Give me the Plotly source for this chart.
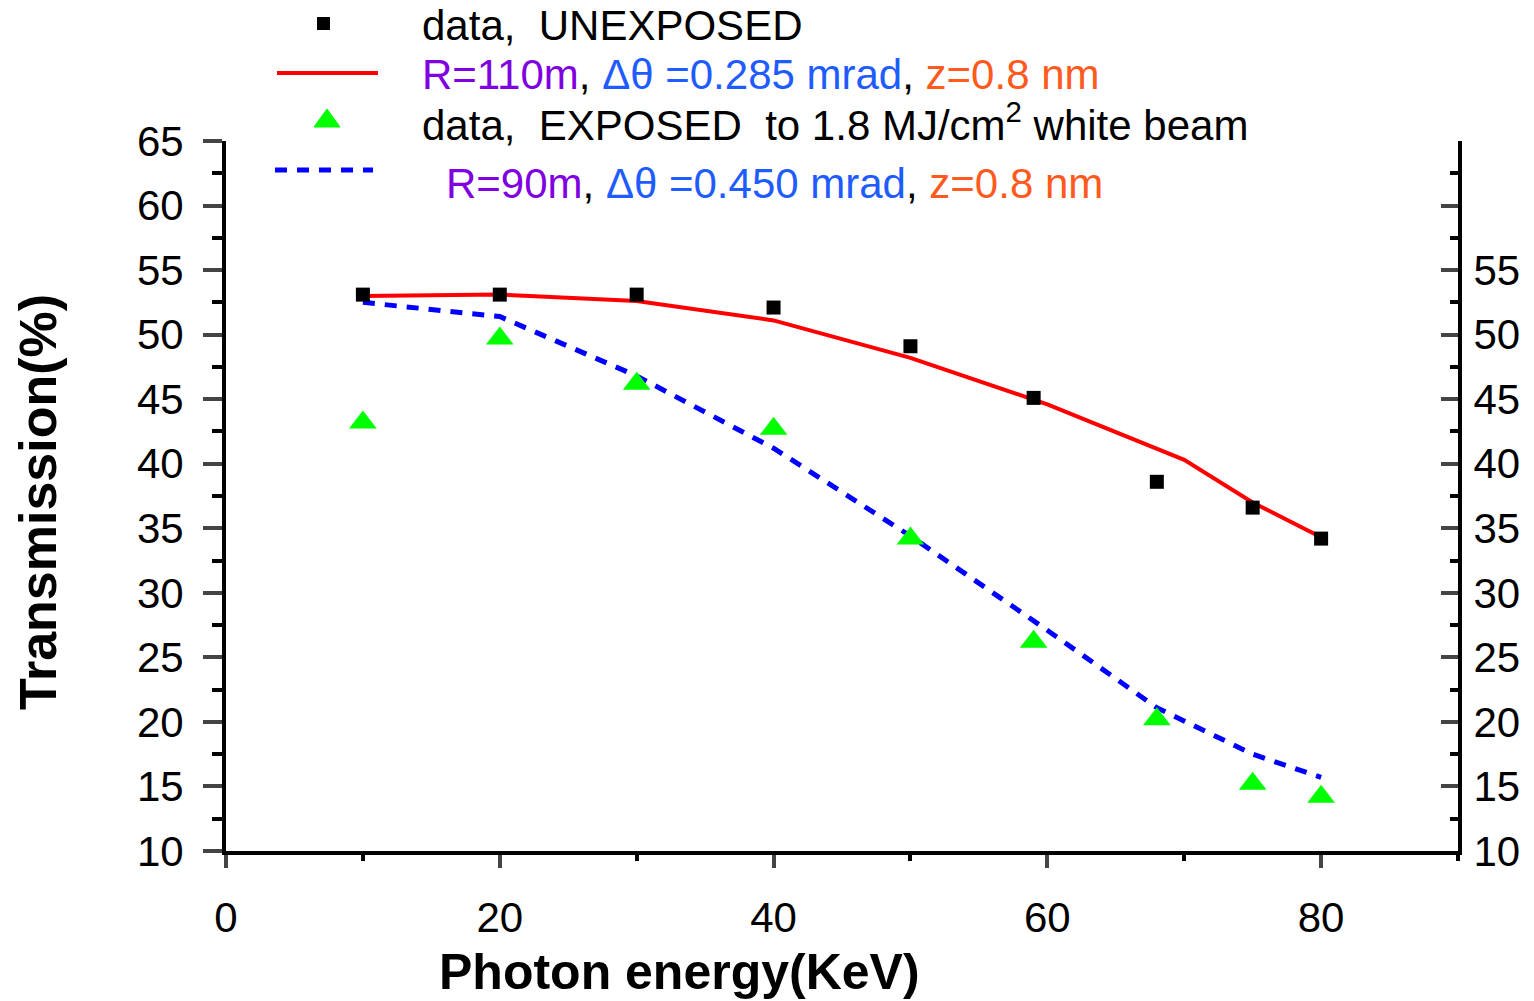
import plotly.graph_objects as go

# ---- data ----
unexp_x = [10, 20, 30, 40, 50, 59, 68, 75, 80]
unexp_y = [53.1, 53.1, 53.1, 52.1, 49.1, 45.1, 38.6, 36.6, 34.2]
fit110_x = [10, 20, 30, 40, 50, 60, 70, 75, 80]
fit110_y = [53.0, 53.1, 52.6, 51.1, 48.2, 44.6, 40.3, 37.0, 34.3]
exp_x = [10, 20, 30, 40, 50, 59, 68, 75, 80]
exp_y = [43.2, 49.7, 46.2, 42.7, 34.2, 26.2, 20.2, 15.2, 14.2]
fit90_x = [10, 20, 30, 40, 50, 60, 68, 75, 80]
fit90_y = [52.5, 51.4, 46.8, 41.2, 34.4, 27.1, 21.1, 17.5, 15.7]

x_ticks = [0, 20, 40, 60, 80]
y_ticks = [10, 15, 20, 25, 30, 35, 40, 45, 50, 55, 60, 65]
y2_ticks = [10, 15, 20, 25, 30, 35, 40, 45, 50, 55]
y3_ticks = [60, 65]

PURPLE = "#7F00E0"
BLUE_T = "#1F5CFF"
ORANGE = "#FF5A1E"
FONT = "Liberation Sans, Arial, sans-serif"

fig = go.Figure()
fig.add_trace(go.Scatter(x=fit110_x, y=fit110_y, mode="lines",
                         line=dict(color="#FF0000", width=4), showlegend=False))
fig.add_trace(go.Scatter(x=fit90_x, y=fit90_y, mode="lines",
                         line=dict(color="#0000FF", width=5, dash="12px,10px"), showlegend=False))
fig.add_trace(go.Scatter(x=unexp_x, y=unexp_y, mode="markers",
                         marker=dict(symbol="square", color="black", size=14), showlegend=False))
fig.add_trace(go.Scatter(x=exp_x, y=exp_y, mode="markers",
                         marker=dict(symbol="triangle-up", color="#00FF00", size=24), showlegend=False))
# dummy traces for right axes
fig.add_trace(go.Scatter(x=[None], y=[None], yaxis="y2", showlegend=False, hoverinfo="skip"))
fig.add_trace(go.Scatter(x=[None], y=[None], yaxis="y3", showlegend=False, hoverinfo="skip"))

W, H = 1534, 1001
L, R, T, B = 226, 1458, 141, 851

fig.update_layout(
    width=W, height=H,
    margin=dict(l=L, r=W - R, t=T, b=H - B, pad=0),
    paper_bgcolor="white", plot_bgcolor="white",
    font=dict(family=FONT, size=42, color="black"),
    showlegend=False,
    xaxis=dict(range=[0, 90], tickvals=x_ticks, ticks="outside", ticklen=13, tickwidth=4,
               showline=True, linewidth=4, linecolor="black", showgrid=False, zeroline=False,
               ticklabelstandoff=14,
               minor=dict(tickvals=[10, 30, 50, 70, 90], ticks="outside", ticklen=6, tickwidth=4, tickcolor="black")),
    yaxis=dict(range=[10, 65], tickvals=y_ticks, ticks="outside", ticklen=19, tickwidth=4,
               showline=True, linewidth=4, linecolor="black", showgrid=False, zeroline=False,
               ticklabelstandoff=11,
               minor=dict(dtick=2.5, ticks="outside", ticklen=10, tickwidth=4, tickcolor="black")),
    yaxis2=dict(range=[10, 65], overlaying="y", side="right", tickvals=y2_ticks,
                ticks="inside", ticklen=17, tickwidth=4, showline=True, linewidth=4, linecolor="black",
                showgrid=False, zeroline=False, ticklabelstandoff=3,
                minor=dict(dtick=2.5, ticks="inside", ticklen=8, tickwidth=4, tickcolor="black")),
    yaxis3=dict(range=[10, 65], overlaying="y", side="right", tickvals=y3_ticks, showticklabels=False,
                ticks="inside", ticklen=17, tickwidth=4, showline=False,
                showgrid=False, zeroline=False),
)

def px(xp):
    return (xp - L) / (R - L)

def py(yp):
    return (B - yp) / (B - T)

# axis titles
fig.add_annotation(text="<b>Photon energy(KeV)</b>", xref="paper", yref="paper",
                   x=px(679), y=py(972), xanchor="center", yanchor="middle", showarrow=False,
                   font=dict(size=50, family=FONT))
fig.add_annotation(text="<b>Transmission(%)</b>", xref="paper", yref="paper",
                   x=px(38), y=py(502), xanchor="center", yanchor="middle", showarrow=False,
                   textangle=-90, font=dict(size=52, family=FONT))

# legend (manual)
sp = "\u00a0"
legend_rows = [
    (420, 25, "data," + sp + sp + "UNEXPOSED"),
    (420, 75, f"<span style='color:{PURPLE}'>R=110m</span>, <span style='color:{BLUE_T}'>Δθ =0.285 mrad</span>, <span style='color:{ORANGE}'>z=0.8 nm</span>"),
    (420, 122, "data," + sp + sp + "EXPOSED" + sp + sp + "to 1.8 MJ/cm<sup>2</sup> white beam"),
    (444, 183, f"<span style='color:{PURPLE}'>R=90m</span>, <span style='color:{BLUE_T}'>Δθ =0.450 mrad</span>, <span style='color:{ORANGE}'>z=0.8 nm</span>"),
]
for xpix, ypix, txt in legend_rows:
    fig.add_annotation(text=txt, xref="paper", yref="paper", x=px(xpix), y=py(ypix),
                       xanchor="left", yanchor="middle", showarrow=False,
                       font=dict(size=42, family=FONT, color="black"))

# legend symbols
fig.add_shape(type="rect", xref="paper", yref="paper",
              x0=px(317), x1=px(330), y0=py(30), y1=py(17),
              fillcolor="black", line=dict(width=0))
fig.add_shape(type="line", xref="paper", yref="paper",
              x0=px(277), x1=px(378), y0=py(73), y1=py(73),
              line=dict(color="#FF0000", width=4))
fig.add_shape(type="path", xref="paper", yref="paper",
              path=f"M {px(314)} {py(127)} L {px(340)} {py(127)} L {px(327)} {py(109)} Z",
              fillcolor="#00FF00", line=dict(color="#00FF00", width=1))
fig.add_shape(type="line", xref="paper", yref="paper",
              x0=px(275), x1=px(373), y0=py(170), y1=py(170),
              line=dict(color="#0000FF", width=5, dash="12px,10px"))

fig.write_html("out.html")
